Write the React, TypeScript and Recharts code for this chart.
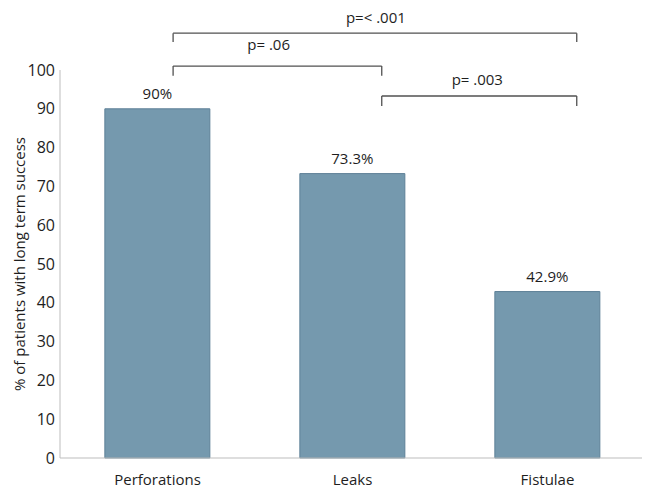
import React from 'react';
import {
  BarChart,
  Bar,
  XAxis,
  YAxis,
  LabelList,
  ReferenceLine,
  ReferenceDot,
} from 'recharts';

const categories = ['Perforations', 'Leaks', 'Fistulae'];
const successRates = [90, 73.3, 42.9];
const valueLabels = ['90%', '73.3%', '42.9%'];
const yTicks = [0, 10, 20, 30, 40, 50, 60, 70, 80, 90, 100];
const xTicks = [0, 1, 2];

// significance brackets: from/to in category index units, level/foot in y units
const bracketFrom = [0.08, 0.08, 1.15];
const bracketTo = [2.15, 1.15, 2.15];
const bracketLevel = [109.5, 101.0, 93.3];
const bracketFoot = [107.2, 98.5, 90.7];
const pLabels = ['p=< .001', 'p=  .06', 'p=  .003'];
const pLabelX = [1.12, 0.57, 1.64];
const pLabelY = [113.4, 106.4, 97.4];

const data = categories.map((name, i) => ({
  idx: i,
  name,
  value: successRates[i],
  label: valueLabels[i],
}));

const FONT = '"Open Sans", "Noto Sans", sans-serif';
const TEXT = '#1e1e1e';
const AXIS = '#bdbdbd';
const BRACKET = '#505050';

export default function App() {
  return (
    <div style={{ width: 642, height: 482, fontFamily: FONT }}>
      <BarChart
        width={642}
        height={482}
        data={data}
        margin={{ top: 62, right: 5, bottom: 0, left: 0 }}
        barCategoryGap="23%"
      >
        <XAxis
          dataKey="idx"
          type="number"
          domain={[-0.5, 2.5]}
          allowDataOverflow
          ticks={xTicks}
          tickFormatter={(v: number) => categories[v] ?? ''}
          axisLine={{ stroke: AXIS }}
          tickLine={false}
          tickMargin={10}
          height={32}
          tick={{ fill: TEXT, fontSize: 15, fontFamily: FONT }}
        />
        <YAxis
          domain={[0, 100]}
          ticks={yTicks}
          width={52}
          axisLine={{ stroke: AXIS }}
          tickLine={false}
          tickSize={0}
          tickMargin={5}
          tick={{ fill: TEXT, fontSize: 16, fontFamily: FONT }}
          label={{
            value: '% of patients with long term success',
            angle: -90,
            position: 'insideLeft',
            offset: 12,
            style: { textAnchor: 'middle', fill: TEXT, fontSize: 15, fontFamily: FONT },
          }}
        />
        <Bar
          dataKey="value"
          fill="#7599ae"
          stroke="#5e8198"
          strokeWidth={1}
          isAnimationActive={false}
        >
          <LabelList
            dataKey="label"
            position="top"
            offset={10}
            style={{ fill: TEXT, fontSize: 15, fontFamily: FONT }}
          />
        </Bar>
        {pLabels.map((p, i) => (
          <ReferenceLine
            key={`h${i}`}
            ifOverflow="visible"
            stroke={BRACKET}
            strokeWidth={1.3}
            segment={[
              { x: bracketFrom[i], y: bracketLevel[i] },
              { x: bracketTo[i], y: bracketLevel[i] },
            ]}
          />
        ))}
        {pLabels.map((p, i) => (
          <ReferenceLine
            key={`l${i}`}
            ifOverflow="visible"
            stroke={BRACKET}
            strokeWidth={1.3}
            segment={[
              { x: bracketFrom[i], y: bracketLevel[i] },
              { x: bracketFrom[i], y: bracketFoot[i] },
            ]}
          />
        ))}
        {pLabels.map((p, i) => (
          <ReferenceLine
            key={`r${i}`}
            ifOverflow="visible"
            stroke={BRACKET}
            strokeWidth={1.3}
            segment={[
              { x: bracketTo[i], y: bracketLevel[i] },
              { x: bracketTo[i], y: bracketFoot[i] },
            ]}
          />
        ))}
        {pLabels.map((p, i) => (
          <ReferenceDot
            key={`t${i}`}
            x={pLabelX[i]}
            y={pLabelY[i]}
            r={0}
            fill="none"
            stroke="none"
            ifOverflow="visible"
            label={{
              value: p,
              position: 'center',
              style: { fill: TEXT, fontSize: 15, fontFamily: FONT, whiteSpace: 'pre' },
            }}
          />
        ))}
      </BarChart>
    </div>
  );
}
